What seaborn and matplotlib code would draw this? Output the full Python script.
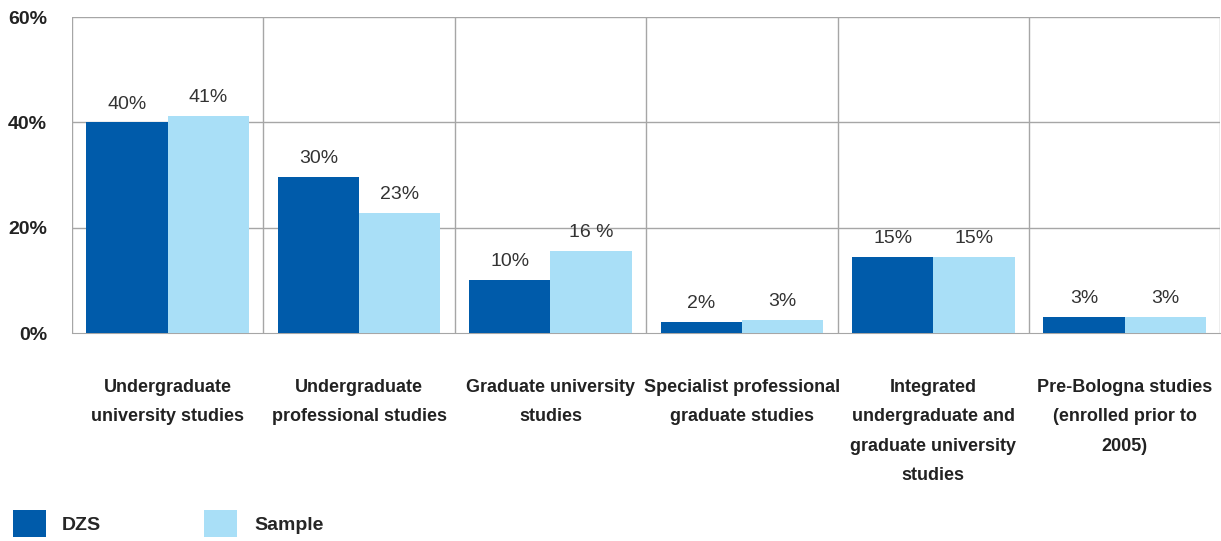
import numpy as np
import pandas as pd
import matplotlib
matplotlib.use("Agg")
import matplotlib.pyplot as plt
import seaborn as sns
from matplotlib.patches import Patch

categories = ["Undergraduate\nuniversity studies",
              "Undergraduate\nprofessional studies",
              "Graduate university\nstudies",
              "Specialist professional\ngraduate studies",
              "Integrated\nundergraduate and\ngraduate university\nstudies",
              "Pre-Bologna studies\n(enrolled prior to\n2005)"]
dzs = [40.0, 29.6, 10.1, 2.1, 14.4, 3.0]
sample = [41.2, 22.8, 15.6, 2.5, 14.4, 3.0]
dzs_labels = ["40%", "30%", "10%", "2%", "15%", "3%"]
sample_labels = ["41%", "23%", "16 %", "3%", "15%", "3%"]
series = ["DZS", "Sample"]
colors = ["#005BAA", "#A9DFF7"]

sns.set_style("white")
plt.rcParams['font.family'] = ['Liberation Sans', 'DejaVu Sans']

df = pd.DataFrame({
    "category": categories * 2,
    "value": dzs + sample,
    "series": ["DZS"] * len(dzs) + ["Sample"] * len(sample),
})

fig = plt.figure(figsize=(12.21, 5.41), dpi=100)
ax = fig.add_axes([72 / 1221, 208 / 541, 1 - 72 / 1221 - 0.0005, 316 / 541])

sns.barplot(data=df, x="category", y="value", hue="series", palette=colors,
            width=0.85, saturation=1, ax=ax, legend=False, zorder=3,
            linewidth=0, edgecolor="none")

for cont, labs in zip(ax.containers, [dzs_labels, sample_labels]):
    ax.bar_label(cont, labels=labs, padding=7, fontsize=14, color="#333333")

ax.set_ylim(0, 60)
ax.set_xlim(-0.5, len(categories) - 0.5)
ax.set_yticks([0, 20, 40, 60])
ax.set_yticklabels(["0%", "20%", "40%", "60%"], fontsize=14, fontweight="bold",
                   color="#222222")
ax.tick_params(axis="y", length=0, pad=18)
ax.tick_params(axis="x", length=0, pad=33)
for t in ax.get_xticklabels():
    t.set_fontsize(13)
    t.set_fontweight("bold")
    t.set_color("#222222")
    t.set_linespacing(1.95)
    t.set_verticalalignment("top")
ax.set_xlabel("")
ax.set_ylabel("")

for y in [20, 40, 60]:
    ax.axhline(y, color="#A6A6A6", lw=1, zorder=1)
for x in np.arange(-0.5, len(categories), 1.0):
    ax.axvline(x, color="#A6A6A6", lw=1, zorder=1)

for s in ["top", "right", "left"]:
    ax.spines[s].set_visible(False)
ax.spines["bottom"].set_color("#A6A6A6")

handles = [Patch(facecolor=c, edgecolor="none") for c in colors]
fig.legend(handles, series, loc="lower left", bbox_to_anchor=(-0.004, -0.025),
           ncol=2, frameon=False, handlelength=1.7, handleheight=1.75,
           handletextpad=0.85, columnspacing=5.3,
           prop={"size": 14, "weight": "bold"})

fig.savefig("out.png", dpi=100)
